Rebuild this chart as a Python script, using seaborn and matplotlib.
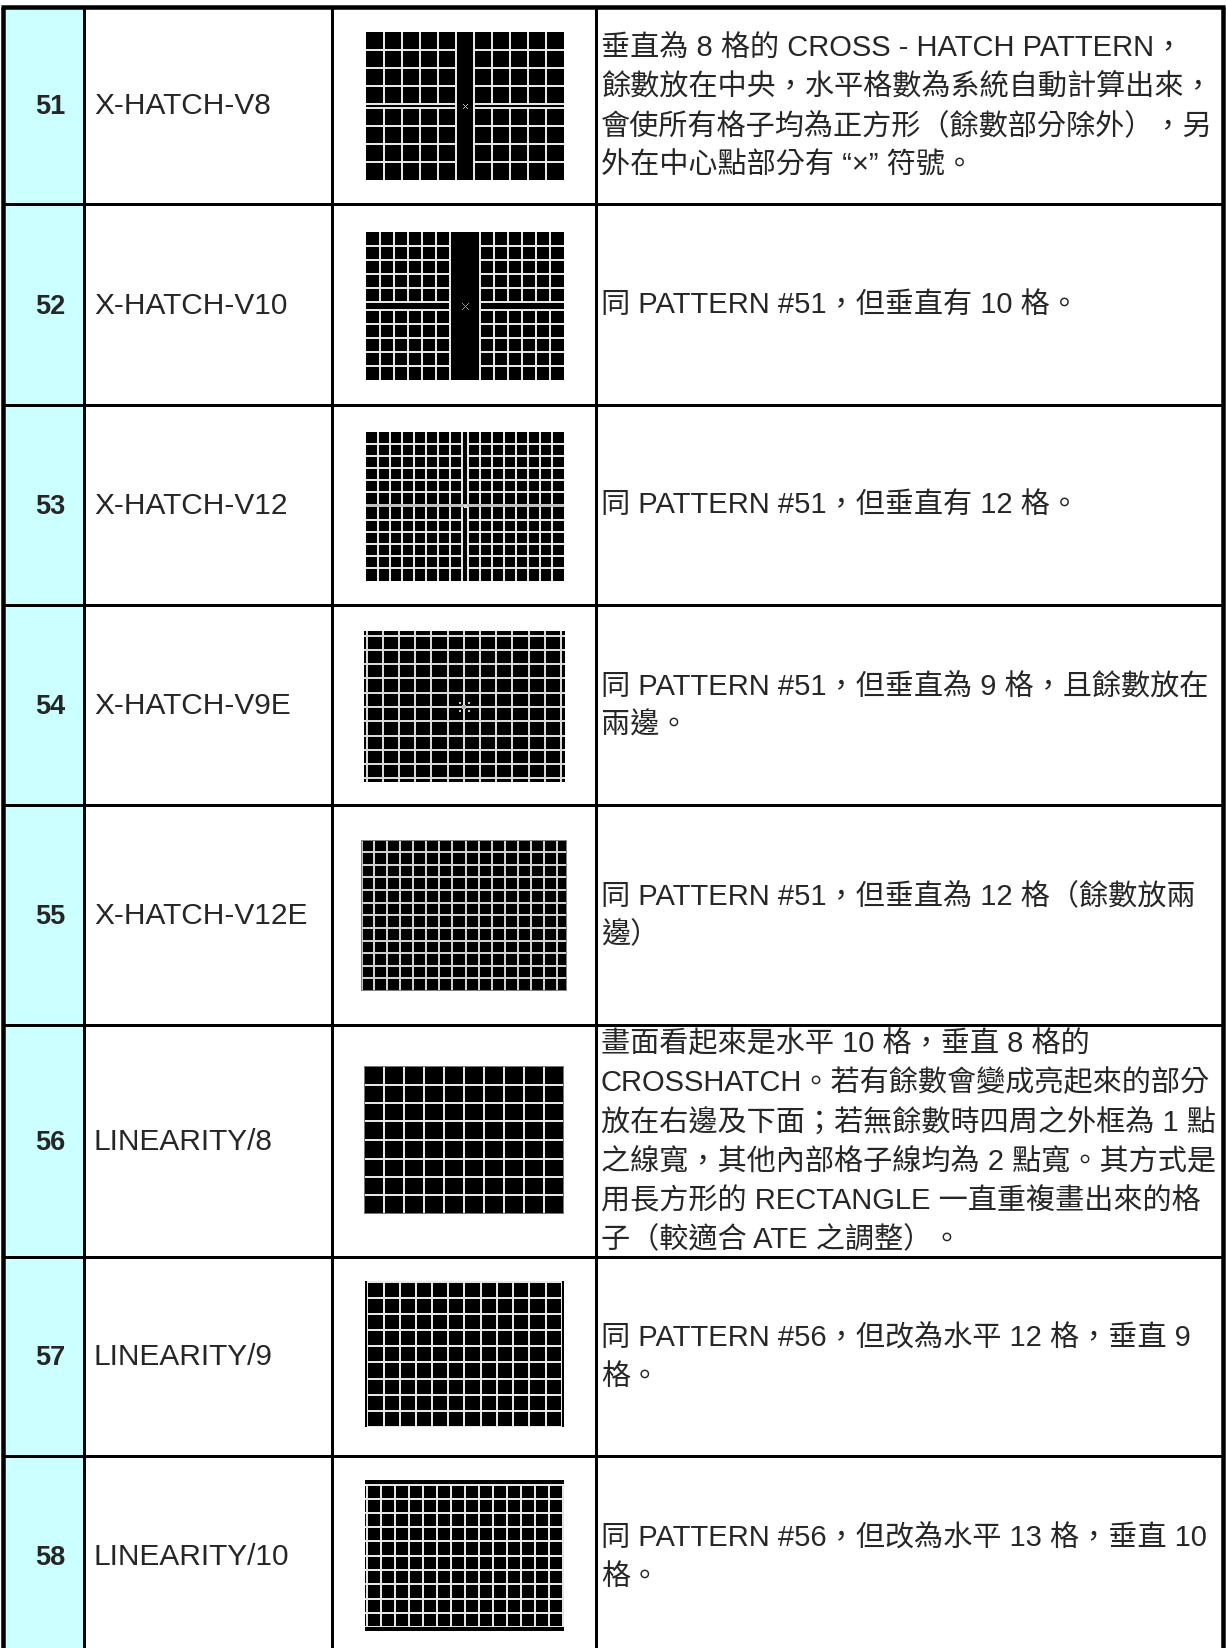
import numpy as np
import matplotlib
matplotlib.use("Agg")
import matplotlib.pyplot as plt
from matplotlib.patches import Rectangle
import seaborn as sns

sns.set_style("white")
plt.rcParams['font.family'] = ['Liberation Sans', 'Noto Sans CJK TC']

# table content
pattern_ids = [51, 52, 53, 54, 55, 56, 57, 58]
pattern_names = ['X-HATCH-V8', 'X-HATCH-V10', 'X-HATCH-V12', 'X-HATCH-V9E',
                 'X-HATCH-V12E', 'LINEARITY/8', 'LINEARITY/9', 'LINEARITY/10']
descriptions = [
    ['垂直為 8 格的 CROSS - HATCH PATTERN，',
     '餘數放在中央，水平格數為系統自動計算出來，',
     '會使所有格子均為正方形（餘數部分除外），另',
     '外在中心點部分有 “×” 符號。'],
    ['同 PATTERN #51，但垂直有 10 格。'],
    ['同 PATTERN #51，但垂直有 12 格。'],
    ['同 PATTERN #51，但垂直為 9 格，且餘數放在', '兩邊。'],
    ['同 PATTERN #51，但垂直為 12 格（餘數放兩', '邊）'],
    ['畫面看起來是水平 10 格，垂直 8 格的',
     'CROSSHATCH。若有餘數會變成亮起來的部分',
     '放在右邊及下面；若無餘數時四周之外框為 1 點',
     '之線寬，其他內部格子線均為 2 點寬。其方式是',
     '用長方形的 RECTANGLE 一直重複畫出來的格',
     '子（較適合 ATE 之調整）。'],
    ['同 PATTERN #56，但改為水平 12 格，垂直 9', '格。'],
    ['同 PATTERN #56，但改為水平 13 格，垂直 10', '格。'],
]

W, H = 1226, 1649
row_edges = [8, 205, 406, 606, 806, 1026, 1258, 1457, 1649]
col_edges = [3, 84, 332, 596, 1223]
# thumbnail boxes: x0, y0, w, h (pixels)
thumb_boxes = [(366, 33, 198, 148), (366, 233, 198, 148), (366, 433, 198, 149),
               (364, 632, 201, 151), (361, 841, 206, 151), (364, 1067, 200, 148),
               (365, 1282, 199, 146), (365, 1481, 199, 151)]

LINE = 0.9


def vl(m, x, y0=0, y1=None, v=LINE, w=2):
    x0 = int(round(x - w / 2))
    m[y0:y1, max(x0, 0):x0 + w] = v


def hl(m, y, x0=0, x1=None, v=LINE, w=2):
    y0 = int(round(y - w / 2))
    m[max(y0, 0):y0 + w, x0:x1] = v


def xmark(m, cx, cy, r, v):
    for d in range(-r, r + 1):
        m[cy + d, cx + d] = v
        m[cy + d, cx - d] = v


def build(i, w, h):
    m = np.zeros((h, w))
    if i == 0:
        for x in [18, 36, 54, 72, 126, 144, 162, 180]:
            vl(m, x, 0, 72); vl(m, x, 76, h)
        vl(m, 90); vl(m, 108)
        for y in [18, 36, 54, 72, 76, 94, 112, 130]:
            hl(m, y, 0, 90); hl(m, y, 108, w)
        xmark(m, 99, 74, 2, 0.75)
    elif i == 1:
        for x in [14, 28, 42, 56, 70, 128, 142, 156, 170, 184]:
            vl(m, x, 0, 70); vl(m, x, 78, h)
        vl(m, 84); vl(m, 114)
        for y in [14, 28, 42, 56, 70, 78, 92, 106, 120, 134]:
            hl(m, y, 0, 84); hl(m, y, 114, w)
        xmark(m, 99, 74, 3, 0.6)
    elif i == 2:
        for x in list(range(12, 97, 12)) + list(range(102, 198, 12)):
            vl(m, x)
        for y in [12, 24, 36, 48, 60, 88, 100, 112, 124, 136]:
            hl(m, y, 0, 96); hl(m, y, 102, w)
        hl(m, 74, v=0.75, w=3)
        m[73:76, 98:101] = 0.85
    elif i == 3:
        for k in range(13):
            vl(m, 2.7 + 16.2 * k, v=0.85)
        for k in range(11):
            hl(m, 4.7 + 14.26 * k, v=0.85)
        for (dx, dy) in [(95, 71), (104, 71), (95, 79), (104, 79)]:
            m[dy:dy + 2, dx:dx + 2] = 0.8
        m[74:78, 98:102] = 0.7
    elif i == 4:
        vl(m, 1.5, v=0.75)
        for k in range(15):
            vl(m, 13.3 + 13.03 * k, v=0.82)
        for k in range(11):
            hl(m, 12.3 + 12.6 * k, v=0.82)
        m[0, :] = 0.5; m[-1, :] = 0.5; m[:, 0] = 0.5; m[:, -1] = 0.5
    elif i == 5:
        for k in range(1, 10):
            vl(m, 20 * k)
        for k in range(1, 8):
            hl(m, 18.5 * k)
        m[0, :] = 0.45; m[-1, :] = 0.45; m[:, 0] = 0.45; m[:, -1] = 0.45
    elif i == 6:
        for k in range(13):
            vl(m, 2.3 + 16.2 * k)
        for k in range(10):
            hl(m, 1 + 16.1 * k, 3, w - 3)
        m[:, 0:2] = 0; m[:, w - 2:] = 0
    elif i == 7:
        for k in range(15):
            vl(m, 1.7 + 14.04 * k, 4, h - 4)
        for k in range(11):
            hl(m, 4.5 + 14.25 * k)
        m[0:4, :] = 0; m[h - 4:, :] = 0
    return m


fig = plt.figure(figsize=(W / 100, H / 100), dpi=100)
ax = fig.add_axes([0, 0, 1, 1])
ax.set_xlim(0, W)
ax.set_ylim(H, 0)
ax.axis('off')

px = 0.72
ax.add_patch(Rectangle((col_edges[0], row_edges[0]), col_edges[1] - col_edges[0],
                       H - row_edges[0], facecolor='#ccffff', edgecolor='none', zorder=0))
ax.vlines(col_edges[1:-1], row_edges[0], H, color='black', lw=3 * px)
ax.vlines([col_edges[0], col_edges[-1]], row_edges[0], H, color='black', lw=4.5 * px)
ax.hlines(row_edges[1:-1], col_edges[0], col_edges[-1], color='black', lw=3 * px)
ax.hlines([row_edges[0]], col_edges[0] - 2, col_edges[-1] + 2, color='black', lw=4.5 * px)

line_gap = 39.3
for i, pid in enumerate(pattern_ids):
    cy = (row_edges[i] + row_edges[i + 1]) / 2
    if i == len(pattern_ids) - 1:
        cy = (row_edges[i] + row_edges[i] + 200) / 2
    ax.text(50, cy + 1, str(pid), fontsize=19.5, fontweight='bold', ha='center', va='center')
    ax.text(94, cy, pattern_names[i], fontsize=21.5, ha='left', va='center')
    lines = descriptions[i]
    n = len(lines)
    for j, t in enumerate(lines):
        ax.text(601, cy + (j - (n - 1) / 2) * line_gap, t, fontsize=21, ha='left', va='center')

    x0, y0, w, h = thumb_boxes[i]
    tax = fig.add_axes([x0 / W, 1 - (y0 + h) / H, w / W, h / H])
    sns.heatmap(build(i, w, h), ax=tax, cmap='gray', vmin=0, vmax=1, cbar=False,
                xticklabels=False, yticklabels=False)
    tax.axis('off')

fig.savefig('out.png', dpi=100)
